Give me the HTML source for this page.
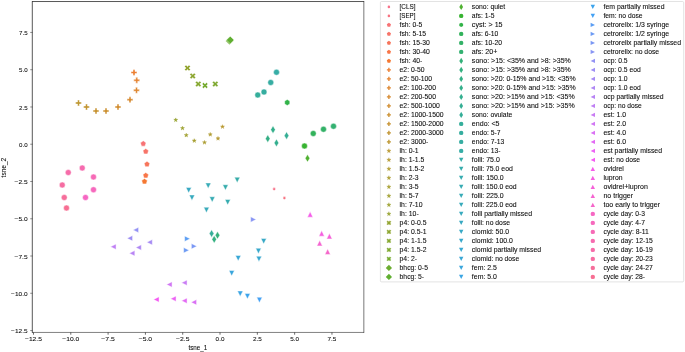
<!DOCTYPE html>
<html><head><meta charset="utf-8"><title>tsne</title>
<style>html,body{margin:0;padding:0;background:#fff;width:685px;height:352px;overflow:hidden}svg text{font-family:"Liberation Sans",sans-serif;stroke:#0a0a0a;stroke-width:0.07px;fill:#0a0a0a}</style></head>
<body>
<svg width="685" height="352" viewBox="0 0 685 352" style="display:block;position:absolute;left:0;top:0;will-change:transform" font-family="Liberation Sans, sans-serif" font-size="6.35px" fill="#000">
<rect x="0" y="0" width="685" height="352" fill="#fff"/>
<g>
<circle cx="274.15" cy="189.10" r="1.49" fill="#f77189" stroke="#fff" stroke-width="0.48" stroke-linejoin="miter"/>
<circle cx="284.40" cy="198.10" r="1.49" fill="#f77280" stroke="#fff" stroke-width="0.48" stroke-linejoin="miter"/>
<path d="M143.25 140.78L140.43 142.83L141.50 146.15L145.00 146.15L146.07 142.83Z" fill="#f77375" stroke="#fff" stroke-width="0.48" stroke-linejoin="miter"/>
<path d="M145.75 148.53L142.93 150.58L144.00 153.90L147.50 153.90L148.57 150.58Z" fill="#f77469" stroke="#fff" stroke-width="0.48" stroke-linejoin="miter"/>
<path d="M147.00 161.28L144.18 163.33L145.25 166.65L148.75 166.65L149.82 163.33Z" fill="#f7755b" stroke="#fff" stroke-width="0.48" stroke-linejoin="miter"/>
<path d="M145.75 172.53L142.93 174.58L144.00 177.90L147.50 177.90L148.57 174.58Z" fill="#f87648" stroke="#fff" stroke-width="0.48" stroke-linejoin="miter"/>
<path d="M144.50 178.53L141.68 180.58L142.75 183.90L146.25 183.90L147.32 180.58Z" fill="#f57832" stroke="#fff" stroke-width="0.48" stroke-linejoin="miter"/>
<path d="M133.01 75.47L134.99 75.47L134.99 73.49L136.97 73.49L136.97 71.51L134.99 71.51L134.99 69.53L133.01 69.53L133.01 71.51L131.03 71.51L131.03 73.49L133.01 73.49Z" fill="#ec7f32" stroke="#fff" stroke-width="0.48" stroke-linejoin="miter"/>
<path d="M135.76 83.22L137.74 83.22L137.74 81.24L139.72 81.24L139.72 79.26L137.74 79.26L137.74 77.28L135.76 77.28L135.76 79.26L133.78 79.26L133.78 81.24L135.76 81.24Z" fill="#e58432" stroke="#fff" stroke-width="0.48" stroke-linejoin="miter"/>
<path d="M135.51 93.22L137.49 93.22L137.49 91.24L139.47 91.24L139.47 89.26L137.49 89.26L137.49 87.28L135.51 87.28L135.51 89.26L133.53 89.26L133.53 91.24L135.51 91.24Z" fill="#de8832" stroke="#fff" stroke-width="0.48" stroke-linejoin="miter"/>
<path d="M129.01 102.72L130.99 102.72L130.99 100.74L132.97 100.74L132.97 98.76L130.99 98.76L130.99 96.78L129.01 96.78L129.01 98.76L127.03 98.76L127.03 100.74L129.01 100.74Z" fill="#d78b32" stroke="#fff" stroke-width="0.48" stroke-linejoin="miter"/>
<path d="M117.01 109.97L118.99 109.97L118.99 107.99L120.97 107.99L120.97 106.01L118.99 106.01L118.99 104.03L117.01 104.03L117.01 106.01L115.03 106.01L115.03 107.99L117.01 107.99Z" fill="#d28e32" stroke="#fff" stroke-width="0.48" stroke-linejoin="miter"/>
<path d="M105.01 113.97L106.99 113.97L106.99 111.99L108.97 111.99L108.97 110.01L106.99 110.01L106.99 108.03L105.01 108.03L105.01 110.01L103.03 110.01L103.03 111.99L105.01 111.99Z" fill="#cc9132" stroke="#fff" stroke-width="0.48" stroke-linejoin="miter"/>
<path d="M95.01 113.97L96.99 113.97L96.99 111.99L98.97 111.99L98.97 110.01L96.99 110.01L96.99 108.03L95.01 108.03L95.01 110.01L93.03 110.01L93.03 111.99L95.01 111.99Z" fill="#c79332" stroke="#fff" stroke-width="0.48" stroke-linejoin="miter"/>
<path d="M85.51 109.97L87.49 109.97L87.49 107.99L89.47 107.99L89.47 106.01L87.49 106.01L87.49 104.03L85.51 104.03L85.51 106.01L83.53 106.01L83.53 107.99L85.51 107.99Z" fill="#c29532" stroke="#fff" stroke-width="0.48" stroke-linejoin="miter"/>
<path d="M77.51 105.97L79.49 105.97L79.49 103.99L81.47 103.99L81.47 102.01L79.49 102.01L79.49 100.03L77.51 100.03L77.51 102.01L75.53 102.01L75.53 103.99L77.51 103.99Z" fill="#be9732" stroke="#fff" stroke-width="0.48" stroke-linejoin="miter"/>
<path d="M222.50 124.67L222.03 126.11L220.52 126.11L221.74 127.00L221.28 128.43L222.50 127.54L223.72 128.43L223.26 127.00L224.48 126.11L222.97 126.11Z" fill="#b99932" stroke="#b99932" stroke-width="0.42" stroke-linejoin="round"/>
<path d="M218.00 136.42L217.53 137.86L216.02 137.86L217.24 138.75L216.78 140.18L218.00 139.29L219.22 140.18L218.76 138.75L219.98 137.86L218.47 137.86Z" fill="#b59a32" stroke="#b59a32" stroke-width="0.42" stroke-linejoin="round"/>
<path d="M210.25 132.42L209.78 133.86L208.27 133.86L209.49 134.75L209.03 136.18L210.25 135.29L211.47 136.18L211.01 134.75L212.23 133.86L210.72 133.86Z" fill="#b09c32" stroke="#b09c32" stroke-width="0.42" stroke-linejoin="round"/>
<path d="M204.50 140.42L204.03 141.86L202.52 141.86L203.74 142.75L203.28 144.18L204.50 143.29L205.72 144.18L205.26 142.75L206.48 141.86L204.97 141.86Z" fill="#ac9d31" stroke="#ac9d31" stroke-width="0.42" stroke-linejoin="round"/>
<path d="M194.25 138.67L193.78 140.11L192.27 140.11L193.49 141.00L193.03 142.43L194.25 141.54L195.47 142.43L195.01 141.00L196.23 140.11L194.72 140.11Z" fill="#a79f31" stroke="#a79f31" stroke-width="0.42" stroke-linejoin="round"/>
<path d="M186.25 133.17L185.78 134.61L184.27 134.61L185.49 135.50L185.03 136.93L186.25 136.04L187.47 136.93L187.01 135.50L188.23 134.61L186.72 134.61Z" fill="#a2a031" stroke="#a2a031" stroke-width="0.42" stroke-linejoin="round"/>
<path d="M182.50 126.17L182.03 127.61L180.52 127.61L181.74 128.50L181.28 129.93L182.50 129.04L183.72 129.93L183.26 128.50L184.48 127.61L182.97 127.61Z" fill="#9da231" stroke="#9da231" stroke-width="0.42" stroke-linejoin="round"/>
<path d="M175.75 117.92L175.28 119.36L173.77 119.36L174.99 120.25L174.53 121.68L175.75 120.79L176.97 121.68L176.51 120.25L177.73 119.36L176.22 119.36Z" fill="#98a331" stroke="#98a331" stroke-width="0.42" stroke-linejoin="round"/>
<path d="M186.01 70.97L187.50 69.48L188.99 70.97L190.47 69.48L188.99 68.00L190.47 66.52L188.99 65.03L187.50 66.52L186.01 65.03L184.53 66.52L186.01 68.00L184.53 69.48Z" fill="#93a531" stroke="#fff" stroke-width="0.48" stroke-linejoin="miter"/>
<path d="M191.26 78.97L192.75 77.48L194.24 78.97L195.72 77.48L194.24 76.00L195.72 74.52L194.24 73.03L192.75 74.52L191.26 73.03L189.78 74.52L191.26 76.00L189.78 77.48Z" fill="#8da631" stroke="#fff" stroke-width="0.48" stroke-linejoin="miter"/>
<path d="M196.76 86.97L198.25 85.48L199.74 86.97L201.22 85.48L199.74 84.00L201.22 82.52L199.74 81.03L198.25 82.52L196.76 81.03L195.28 82.52L196.76 84.00L195.28 85.48Z" fill="#86a831" stroke="#fff" stroke-width="0.48" stroke-linejoin="miter"/>
<path d="M213.76 86.97L215.25 85.48L216.74 86.97L218.22 85.48L216.74 84.00L218.22 82.52L216.74 81.03L215.25 82.52L213.76 81.03L212.28 82.52L213.76 84.00L212.28 85.48Z" fill="#7fa931" stroke="#fff" stroke-width="0.48" stroke-linejoin="miter"/>
<path d="M203.51 88.47L205.00 86.98L206.49 88.47L207.97 86.98L206.49 85.50L207.97 84.02L206.49 82.53L205.00 84.02L203.51 82.53L202.03 84.02L203.51 85.50L202.03 86.98Z" fill="#76ab31" stroke="#fff" stroke-width="0.48" stroke-linejoin="miter"/>
<path d="M229.50 44.86L233.36 41.00L229.50 37.14L225.64 41.00Z" fill="#6cad31" stroke="#fff" stroke-width="0.48" stroke-linejoin="miter"/>
<path d="M230.25 43.86L234.11 40.00L230.25 36.14L226.39 40.00Z" fill="#60af31" stroke="#fff" stroke-width="0.48" stroke-linejoin="miter"/>
<path d="M307.50 162.11L309.82 158.25L307.50 154.39L305.18 158.25Z" fill="#50b131" stroke="#fff" stroke-width="0.48" stroke-linejoin="miter"/>
<circle cx="304.50" cy="146.00" r="2.97" fill="#37b331" stroke="#fff" stroke-width="0.48" stroke-linejoin="miter"/>
<path d="M287.25 99.53L284.68 101.02L284.68 103.98L287.25 105.47L289.82 103.98L289.82 101.02Z" fill="#32b349" stroke="#fff" stroke-width="0.48" stroke-linejoin="miter"/>
<circle cx="313.25" cy="133.50" r="2.97" fill="#32b25b" stroke="#fff" stroke-width="0.48" stroke-linejoin="miter"/>
<circle cx="323.50" cy="129.25" r="2.97" fill="#33b167" stroke="#fff" stroke-width="0.48" stroke-linejoin="miter"/>
<circle cx="333.50" cy="126.25" r="2.97" fill="#33b171" stroke="#fff" stroke-width="0.48" stroke-linejoin="miter"/>
<path d="M211.60 237.41L213.92 233.55L211.60 229.69L209.28 233.55Z" fill="#35ae98" stroke="#fff" stroke-width="0.48" stroke-linejoin="miter"/>
<path d="M217.50 239.11L219.82 235.25L217.50 231.39L215.18 235.25Z" fill="#33b079" stroke="#fff" stroke-width="0.48" stroke-linejoin="miter"/>
<path d="M214.20 243.21L216.52 239.35L214.20 235.49L211.88 239.35Z" fill="#34b080" stroke="#fff" stroke-width="0.48" stroke-linejoin="miter"/>
<path d="M267.76 142.51L270.08 138.65L267.76 134.79L265.44 138.65Z" fill="#34af85" stroke="#fff" stroke-width="0.48" stroke-linejoin="miter"/>
<path d="M273.00 133.56L275.32 129.70L273.00 125.84L270.68 129.70Z" fill="#34af8b" stroke="#fff" stroke-width="0.48" stroke-linejoin="miter"/>
<path d="M276.45 146.76L278.77 142.90L276.45 139.04L274.13 142.90Z" fill="#34af8f" stroke="#fff" stroke-width="0.48" stroke-linejoin="miter"/>
<path d="M286.55 139.51L288.87 135.65L286.55 131.79L284.23 135.65Z" fill="#35ae94" stroke="#fff" stroke-width="0.48" stroke-linejoin="miter"/>
<circle cx="257.75" cy="95.00" r="2.97" fill="#35ae9b" stroke="#fff" stroke-width="0.48" stroke-linejoin="miter"/>
<circle cx="264.00" cy="92.00" r="2.97" fill="#35ad9f" stroke="#fff" stroke-width="0.48" stroke-linejoin="miter"/>
<circle cx="270.75" cy="82.50" r="2.97" fill="#36ada2" stroke="#fff" stroke-width="0.48" stroke-linejoin="miter"/>
<circle cx="276.50" cy="72.25" r="2.97" fill="#36ada6" stroke="#fff" stroke-width="0.48" stroke-linejoin="miter"/>
<path d="M237.20 182.79L239.99 177.21L234.41 177.21Z" fill="#36aca9" stroke="#fff" stroke-width="0.48" stroke-linejoin="miter"/>
<path d="M225.45 190.29L228.24 184.71L222.66 184.71Z" fill="#36acac" stroke="#fff" stroke-width="0.48" stroke-linejoin="miter"/>
<path d="M227.70 205.04L230.49 199.46L224.91 199.46Z" fill="#36acb0" stroke="#fff" stroke-width="0.48" stroke-linejoin="miter"/>
<path d="M212.20 202.29L214.99 196.71L209.41 196.71Z" fill="#37abb3" stroke="#fff" stroke-width="0.48" stroke-linejoin="miter"/>
<path d="M208.20 188.54L210.99 182.96L205.41 182.96Z" fill="#37abb7" stroke="#fff" stroke-width="0.48" stroke-linejoin="miter"/>
<path d="M206.45 212.79L209.24 207.21L203.66 207.21Z" fill="#37aaba" stroke="#fff" stroke-width="0.48" stroke-linejoin="miter"/>
<path d="M191.95 200.54L194.74 194.96L189.16 194.96Z" fill="#37aabe" stroke="#fff" stroke-width="0.48" stroke-linejoin="miter"/>
<path d="M188.70 193.04L191.49 187.46L185.91 187.46Z" fill="#38a9c2" stroke="#fff" stroke-width="0.48" stroke-linejoin="miter"/>
<path d="M263.70 244.04L266.49 238.46L260.91 238.46Z" fill="#38a9c6" stroke="#fff" stroke-width="0.48" stroke-linejoin="miter"/>
<path d="M258.45 253.79L261.24 248.21L255.66 248.21Z" fill="#38a8cb" stroke="#fff" stroke-width="0.48" stroke-linejoin="miter"/>
<path d="M258.95 261.79L261.74 256.21L256.16 256.21Z" fill="#39a8d0" stroke="#fff" stroke-width="0.48" stroke-linejoin="miter"/>
<path d="M238.20 261.04L240.99 255.46L235.41 255.46Z" fill="#39a7d5" stroke="#fff" stroke-width="0.48" stroke-linejoin="miter"/>
<path d="M231.70 276.04L234.49 270.46L228.91 270.46Z" fill="#3aa6dc" stroke="#fff" stroke-width="0.48" stroke-linejoin="miter"/>
<path d="M240.20 296.54L242.99 290.96L237.41 290.96Z" fill="#3ba5e3" stroke="#fff" stroke-width="0.48" stroke-linejoin="miter"/>
<path d="M247.45 299.04L250.24 293.46L244.66 293.46Z" fill="#3ba3ec" stroke="#fff" stroke-width="0.48" stroke-linejoin="miter"/>
<path d="M259.45 302.79L262.24 297.21L256.66 297.21Z" fill="#43a1f4" stroke="#fff" stroke-width="0.48" stroke-linejoin="miter"/>
<path d="M190.19 238.75L184.61 235.96L184.61 241.54Z" fill="#5b9ef4" stroke="#fff" stroke-width="0.48" stroke-linejoin="miter"/>
<path d="M189.19 250.25L183.61 247.46L183.61 253.04Z" fill="#6d9bf4" stroke="#fff" stroke-width="0.48" stroke-linejoin="miter"/>
<path d="M196.94 246.25L191.36 243.46L191.36 249.04Z" fill="#7b98f4" stroke="#fff" stroke-width="0.48" stroke-linejoin="miter"/>
<path d="M256.19 219.50L250.61 216.71L250.61 222.29Z" fill="#8895f4" stroke="#fff" stroke-width="0.48" stroke-linejoin="miter"/>
<path d="M133.01 230.00L138.59 232.79L138.59 227.21Z" fill="#9392f4" stroke="#fff" stroke-width="0.48" stroke-linejoin="miter"/>
<path d="M127.01 238.25L132.59 241.04L132.59 235.46Z" fill="#9d8ff4" stroke="#fff" stroke-width="0.48" stroke-linejoin="miter"/>
<path d="M146.76 242.25L152.34 245.04L152.34 239.46Z" fill="#a68bf4" stroke="#fff" stroke-width="0.48" stroke-linejoin="miter"/>
<path d="M135.76 247.50L141.34 250.29L141.34 244.71Z" fill="#af88f4" stroke="#fff" stroke-width="0.48" stroke-linejoin="miter"/>
<path d="M129.26 253.25L134.84 256.04L134.84 250.46Z" fill="#b884f4" stroke="#fff" stroke-width="0.48" stroke-linejoin="miter"/>
<path d="M110.51 246.75L116.09 249.54L116.09 243.96Z" fill="#c080f4" stroke="#fff" stroke-width="0.48" stroke-linejoin="miter"/>
<path d="M181.51 282.75L187.09 285.54L187.09 279.96Z" fill="#c97cf4" stroke="#fff" stroke-width="0.48" stroke-linejoin="miter"/>
<path d="M166.51 284.50L172.09 287.29L172.09 281.71Z" fill="#d177f4" stroke="#fff" stroke-width="0.48" stroke-linejoin="miter"/>
<path d="M191.01 302.25L196.59 305.04L196.59 299.46Z" fill="#da71f4" stroke="#fff" stroke-width="0.48" stroke-linejoin="miter"/>
<path d="M181.51 300.75L187.09 303.54L187.09 297.96Z" fill="#e36af4" stroke="#fff" stroke-width="0.48" stroke-linejoin="miter"/>
<path d="M170.51 298.75L176.09 301.54L176.09 295.96Z" fill="#ec62f4" stroke="#fff" stroke-width="0.48" stroke-linejoin="miter"/>
<path d="M153.51 299.50L159.09 302.29L159.09 296.71Z" fill="#f45bf2" stroke="#fff" stroke-width="0.48" stroke-linejoin="miter"/>
<path d="M310.15 211.61L307.36 217.19L312.94 217.19Z" fill="#f55ee9" stroke="#fff" stroke-width="0.48" stroke-linejoin="miter"/>
<path d="M321.65 230.61L318.86 236.19L324.44 236.19Z" fill="#f560e0" stroke="#fff" stroke-width="0.48" stroke-linejoin="miter"/>
<path d="M329.40 233.36L326.61 238.94L332.19 238.94Z" fill="#f562d9" stroke="#fff" stroke-width="0.48" stroke-linejoin="miter"/>
<path d="M319.65 240.36L316.86 245.94L322.44 245.94Z" fill="#f564d1" stroke="#fff" stroke-width="0.48" stroke-linejoin="miter"/>
<path d="M327.65 248.86L324.86 254.44L330.44 254.44Z" fill="#f566ca" stroke="#fff" stroke-width="0.48" stroke-linejoin="miter"/>
<circle cx="85.50" cy="197.50" r="2.97" fill="#f667c3" stroke="#fff" stroke-width="0.48" stroke-linejoin="miter"/>
<circle cx="93.50" cy="189.75" r="2.97" fill="#f669bd" stroke="#fff" stroke-width="0.48" stroke-linejoin="miter"/>
<circle cx="93.50" cy="177.00" r="2.97" fill="#f66ab6" stroke="#fff" stroke-width="0.48" stroke-linejoin="miter"/>
<circle cx="82.25" cy="168.00" r="2.97" fill="#f66baf" stroke="#fff" stroke-width="0.48" stroke-linejoin="miter"/>
<circle cx="68.25" cy="172.50" r="2.97" fill="#f66ca9" stroke="#fff" stroke-width="0.48" stroke-linejoin="miter"/>
<circle cx="62.25" cy="185.00" r="2.97" fill="#f66da2" stroke="#fff" stroke-width="0.48" stroke-linejoin="miter"/>
<circle cx="64.25" cy="197.50" r="2.97" fill="#f66e9b" stroke="#fff" stroke-width="0.48" stroke-linejoin="miter"/>
<circle cx="66.50" cy="208.00" r="2.97" fill="#f76f93" stroke="#fff" stroke-width="0.48" stroke-linejoin="miter"/>
</g>
<g stroke="#262626" fill="none"><line x1="32.0" y1="1.52" x2="364.1" y2="1.52" stroke-width="0.78"/><line x1="32.3" y1="1.2" x2="32.3" y2="332.7" stroke-width="0.78"/><line x1="363.84" y1="1.2" x2="363.84" y2="332.7" stroke-width="0.62"/><line x1="32.0" y1="332.45" x2="364.1" y2="332.45" stroke-width="0.58"/></g>
<line x1="33.48" y1="332.4" x2="33.48" y2="334.7" stroke="#262626" stroke-width="0.7"/>
<text x="33.48" y="341.00" text-anchor="middle" textLength="17.03" lengthAdjust="spacingAndGlyphs" font-size="6.05px">−12.5</text>
<line x1="30.2" y1="32.45" x2="32.5" y2="32.45" stroke="#262626" stroke-width="0.5"/>
<text x="27.60" y="35.05" text-anchor="end" textLength="8.55" lengthAdjust="spacingAndGlyphs" font-size="6.05px">7.5</text>
<line x1="70.79" y1="332.4" x2="70.79" y2="334.7" stroke="#262626" stroke-width="0.7"/>
<text x="70.79" y="341.00" text-anchor="middle" textLength="17.03" lengthAdjust="spacingAndGlyphs" font-size="6.05px">−10.0</text>
<line x1="30.2" y1="69.71" x2="32.5" y2="69.71" stroke="#262626" stroke-width="0.5"/>
<text x="27.60" y="72.31" text-anchor="end" textLength="8.55" lengthAdjust="spacingAndGlyphs" font-size="6.05px">5.0</text>
<line x1="108.10" y1="332.4" x2="108.10" y2="334.7" stroke="#262626" stroke-width="0.7"/>
<text x="108.10" y="341.00" text-anchor="middle" textLength="13.49" lengthAdjust="spacingAndGlyphs" font-size="6.05px">−7.5</text>
<line x1="30.2" y1="106.97" x2="32.5" y2="106.97" stroke="#262626" stroke-width="0.5"/>
<text x="27.60" y="109.57" text-anchor="end" textLength="8.55" lengthAdjust="spacingAndGlyphs" font-size="6.05px">2.5</text>
<line x1="145.41" y1="332.4" x2="145.41" y2="334.7" stroke="#262626" stroke-width="0.7"/>
<text x="145.41" y="341.00" text-anchor="middle" textLength="13.49" lengthAdjust="spacingAndGlyphs" font-size="6.05px">−5.0</text>
<line x1="30.2" y1="144.23" x2="32.5" y2="144.23" stroke="#262626" stroke-width="0.5"/>
<text x="27.60" y="146.83" text-anchor="end" textLength="8.55" lengthAdjust="spacingAndGlyphs" font-size="6.05px">0.0</text>
<line x1="182.72" y1="332.4" x2="182.72" y2="334.7" stroke="#262626" stroke-width="0.7"/>
<text x="182.72" y="341.00" text-anchor="middle" textLength="13.49" lengthAdjust="spacingAndGlyphs" font-size="6.05px">−2.5</text>
<line x1="30.2" y1="181.49" x2="32.5" y2="181.49" stroke="#262626" stroke-width="0.5"/>
<text x="27.60" y="184.09" text-anchor="end" textLength="13.06" lengthAdjust="spacingAndGlyphs" font-size="6.05px">−2.5</text>
<line x1="220.03" y1="332.4" x2="220.03" y2="334.7" stroke="#262626" stroke-width="0.7"/>
<text x="220.03" y="341.00" text-anchor="middle" textLength="8.84" lengthAdjust="spacingAndGlyphs" font-size="6.05px">0.0</text>
<line x1="30.2" y1="218.75" x2="32.5" y2="218.75" stroke="#262626" stroke-width="0.5"/>
<text x="27.60" y="221.35" text-anchor="end" textLength="13.06" lengthAdjust="spacingAndGlyphs" font-size="6.05px">−5.0</text>
<line x1="257.34" y1="332.4" x2="257.34" y2="334.7" stroke="#262626" stroke-width="0.7"/>
<text x="257.34" y="341.00" text-anchor="middle" textLength="8.84" lengthAdjust="spacingAndGlyphs" font-size="6.05px">2.5</text>
<line x1="30.2" y1="256.01" x2="32.5" y2="256.01" stroke="#262626" stroke-width="0.5"/>
<text x="27.60" y="258.61" text-anchor="end" textLength="13.06" lengthAdjust="spacingAndGlyphs" font-size="6.05px">−7.5</text>
<line x1="294.65" y1="332.4" x2="294.65" y2="334.7" stroke="#262626" stroke-width="0.7"/>
<text x="294.65" y="341.00" text-anchor="middle" textLength="8.84" lengthAdjust="spacingAndGlyphs" font-size="6.05px">5.0</text>
<line x1="30.2" y1="293.27" x2="32.5" y2="293.27" stroke="#262626" stroke-width="0.5"/>
<text x="27.60" y="295.87" text-anchor="end" textLength="16.48" lengthAdjust="spacingAndGlyphs" font-size="6.05px">−10.0</text>
<line x1="331.96" y1="332.4" x2="331.96" y2="334.7" stroke="#262626" stroke-width="0.7"/>
<text x="331.96" y="341.00" text-anchor="middle" textLength="8.84" lengthAdjust="spacingAndGlyphs" font-size="6.05px">7.5</text>
<line x1="30.2" y1="330.53" x2="32.5" y2="330.53" stroke="#262626" stroke-width="0.5"/>
<text x="27.60" y="333.13" text-anchor="end" textLength="16.48" lengthAdjust="spacingAndGlyphs" font-size="6.05px">−12.5</text>
<text x="197.80" y="349.50" text-anchor="middle" textLength="18.72" lengthAdjust="spacingAndGlyphs">tsne_1</text>
<text x="0.00" y="0.00" text-anchor="middle" textLength="19.71" lengthAdjust="spacingAndGlyphs" transform="translate(5.6 167.6) rotate(-90)">tsne_2</text>
<rect x="380.4" y="1.5" width="303.30000000000007" height="280.4" rx="1.2" ry="1.2" fill="#fff" stroke="#d0d0d0" stroke-width="0.6"/>
<circle cx="388.90" cy="6.88" r="1.26" fill="#f77189"/>
<text x="399.59" y="8.50" text-anchor="start" textLength="15.96" lengthAdjust="spacingAndGlyphs">[CLS]</text>
<circle cx="388.90" cy="15.88" r="1.26" fill="#f77280"/>
<text x="399.59" y="17.50" text-anchor="start" textLength="15.83" lengthAdjust="spacingAndGlyphs">[SEP]</text>
<path d="M388.90 22.68L386.81 24.20L387.61 26.66L390.19 26.66L390.99 24.20Z" fill="#f77375"/>
<text x="399.59" y="26.50" text-anchor="start" textLength="22.68" lengthAdjust="spacingAndGlyphs">fsh: 0-5</text>
<path d="M388.90 31.68L386.81 33.20L387.61 35.66L390.19 35.66L390.99 33.20Z" fill="#f77469"/>
<text x="399.59" y="35.50" text-anchor="start" textLength="26.48" lengthAdjust="spacingAndGlyphs">fsh: 5-15</text>
<path d="M388.90 40.68L386.81 42.20L387.61 44.66L390.19 44.66L390.99 42.20Z" fill="#f7755b"/>
<text x="399.59" y="44.50" text-anchor="start" textLength="30.28" lengthAdjust="spacingAndGlyphs">fsh: 15-30</text>
<path d="M388.90 49.68L386.81 51.20L387.61 53.66L390.19 53.66L390.99 51.20Z" fill="#f87648"/>
<text x="399.59" y="53.50" text-anchor="start" textLength="30.28" lengthAdjust="spacingAndGlyphs">fsh: 30-40</text>
<path d="M388.90 58.68L386.81 60.20L387.61 62.66L390.19 62.66L390.99 60.20Z" fill="#f57832"/>
<text x="399.59" y="62.50" text-anchor="start" textLength="22.68" lengthAdjust="spacingAndGlyphs">fsh: 40-</text>
<path d="M388.23 71.90L389.57 71.90L389.57 70.55L390.92 70.55L390.92 69.21L389.57 69.21L389.57 67.86L388.23 67.86L388.23 69.21L386.88 69.21L386.88 70.55L388.23 70.55Z" fill="#ec7f32"/>
<text x="399.59" y="71.50" text-anchor="start" textLength="24.95" lengthAdjust="spacingAndGlyphs">e2: 0-50</text>
<path d="M388.23 80.90L389.57 80.90L389.57 79.55L390.92 79.55L390.92 78.21L389.57 78.21L389.57 76.86L388.23 76.86L388.23 78.21L386.88 78.21L386.88 79.55L388.23 79.55Z" fill="#e58432"/>
<text x="399.59" y="80.50" text-anchor="start" textLength="32.55" lengthAdjust="spacingAndGlyphs">e2: 50-100</text>
<path d="M388.23 89.90L389.57 89.90L389.57 88.55L390.92 88.55L390.92 87.21L389.57 87.21L389.57 85.86L388.23 85.86L388.23 87.21L386.88 87.21L386.88 88.55L388.23 88.55Z" fill="#de8832"/>
<text x="399.59" y="89.50" text-anchor="start" textLength="36.36" lengthAdjust="spacingAndGlyphs">e2: 100-200</text>
<path d="M388.23 98.90L389.57 98.90L389.57 97.55L390.92 97.55L390.92 96.21L389.57 96.21L389.57 94.86L388.23 94.86L388.23 96.21L386.88 96.21L386.88 97.55L388.23 97.55Z" fill="#d78b32"/>
<text x="399.59" y="98.50" text-anchor="start" textLength="36.36" lengthAdjust="spacingAndGlyphs">e2: 200-500</text>
<path d="M388.23 107.90L389.57 107.90L389.57 106.55L390.92 106.55L390.92 105.21L389.57 105.21L389.57 103.86L388.23 103.86L388.23 105.21L386.88 105.21L386.88 106.55L388.23 106.55Z" fill="#d28e32"/>
<text x="399.59" y="107.50" text-anchor="start" textLength="40.16" lengthAdjust="spacingAndGlyphs">e2: 500-1000</text>
<path d="M388.23 116.90L389.57 116.90L389.57 115.55L390.92 115.55L390.92 114.21L389.57 114.21L389.57 112.86L388.23 112.86L388.23 114.21L386.88 114.21L386.88 115.55L388.23 115.55Z" fill="#cc9132"/>
<text x="399.59" y="116.50" text-anchor="start" textLength="43.96" lengthAdjust="spacingAndGlyphs">e2: 1000-1500</text>
<path d="M388.23 125.90L389.57 125.90L389.57 124.55L390.92 124.55L390.92 123.21L389.57 123.21L389.57 121.86L388.23 121.86L388.23 123.21L386.88 123.21L386.88 124.55L388.23 124.55Z" fill="#c79332"/>
<text x="399.59" y="125.50" text-anchor="start" textLength="43.96" lengthAdjust="spacingAndGlyphs">e2: 1500-2000</text>
<path d="M388.23 134.90L389.57 134.90L389.57 133.55L390.92 133.55L390.92 132.21L389.57 132.21L389.57 130.86L388.23 130.86L388.23 132.21L386.88 132.21L386.88 133.55L388.23 133.55Z" fill="#c29532"/>
<text x="399.59" y="134.50" text-anchor="start" textLength="43.96" lengthAdjust="spacingAndGlyphs">e2: 2000-3000</text>
<path d="M388.23 143.90L389.57 143.90L389.57 142.55L390.92 142.55L390.92 141.21L389.57 141.21L389.57 139.86L388.23 139.86L388.23 141.21L386.88 141.21L386.88 142.55L388.23 142.55Z" fill="#be9732"/>
<text x="399.59" y="143.50" text-anchor="start" textLength="28.75" lengthAdjust="spacingAndGlyphs">e2: 3000-</text>
<path d="M388.90 148.68L388.41 150.20L386.81 150.20L388.10 151.14L387.61 152.66L388.90 151.72L390.19 152.66L389.70 151.14L390.99 150.20L389.39 150.20Z" fill="#b99932" stroke="#b99932" stroke-width="0.35" stroke-linejoin="round"/>
<text x="399.59" y="152.50" text-anchor="start" textLength="19.12" lengthAdjust="spacingAndGlyphs">lh: 0-1</text>
<path d="M388.90 157.68L388.41 159.20L386.81 159.20L388.10 160.14L387.61 161.66L388.90 160.72L390.19 161.66L389.70 160.14L390.99 159.20L389.39 159.20Z" fill="#b59a32" stroke="#b59a32" stroke-width="0.35" stroke-linejoin="round"/>
<text x="399.59" y="161.50" text-anchor="start" textLength="24.82" lengthAdjust="spacingAndGlyphs">lh: 1-1.5</text>
<path d="M388.90 166.68L388.41 168.20L386.81 168.20L388.10 169.14L387.61 170.66L388.90 169.72L390.19 170.66L389.70 169.14L390.99 168.20L389.39 168.20Z" fill="#b09c32" stroke="#b09c32" stroke-width="0.35" stroke-linejoin="round"/>
<text x="399.59" y="170.50" text-anchor="start" textLength="24.82" lengthAdjust="spacingAndGlyphs">lh: 1.5-2</text>
<path d="M388.90 175.68L388.41 177.20L386.81 177.20L388.10 178.14L387.61 179.66L388.90 178.72L390.19 179.66L389.70 178.14L390.99 177.20L389.39 177.20Z" fill="#ac9d31" stroke="#ac9d31" stroke-width="0.35" stroke-linejoin="round"/>
<text x="399.59" y="179.50" text-anchor="start" textLength="19.12" lengthAdjust="spacingAndGlyphs">lh: 2-3</text>
<path d="M388.90 184.68L388.41 186.20L386.81 186.20L388.10 187.14L387.61 188.66L388.90 187.72L390.19 188.66L389.70 187.14L390.99 186.20L389.39 186.20Z" fill="#a79f31" stroke="#a79f31" stroke-width="0.35" stroke-linejoin="round"/>
<text x="399.59" y="188.50" text-anchor="start" textLength="19.12" lengthAdjust="spacingAndGlyphs">lh: 3-5</text>
<path d="M388.90 193.68L388.41 195.20L386.81 195.20L388.10 196.14L387.61 197.66L388.90 196.72L390.19 197.66L389.70 196.14L390.99 195.20L389.39 195.20Z" fill="#a2a031" stroke="#a2a031" stroke-width="0.35" stroke-linejoin="round"/>
<text x="399.59" y="197.50" text-anchor="start" textLength="19.12" lengthAdjust="spacingAndGlyphs">lh: 5-7</text>
<path d="M388.90 202.68L388.41 204.20L386.81 204.20L388.10 205.14L387.61 206.66L388.90 205.72L390.19 206.66L389.70 205.14L390.99 204.20L389.39 204.20Z" fill="#9da231" stroke="#9da231" stroke-width="0.35" stroke-linejoin="round"/>
<text x="399.59" y="206.50" text-anchor="start" textLength="22.92" lengthAdjust="spacingAndGlyphs">lh: 7-10</text>
<path d="M388.90 211.68L388.41 213.20L386.81 213.20L388.10 214.14L387.61 215.66L388.90 214.72L390.19 215.66L389.70 214.14L390.99 213.20L389.39 213.20Z" fill="#98a331" stroke="#98a331" stroke-width="0.35" stroke-linejoin="round"/>
<text x="399.59" y="215.50" text-anchor="start" textLength="19.12" lengthAdjust="spacingAndGlyphs">lh: 10-</text>
<path d="M387.80 225.08L388.90 223.98L390.00 225.08L391.10 223.98L390.00 222.88L391.10 221.78L390.00 220.68L388.90 221.78L387.80 220.68L386.70 221.78L387.80 222.88L386.70 223.98Z" fill="#93a531" stroke="#93a531" stroke-width="0.2" stroke-linejoin="round"/>
<text x="399.59" y="224.50" text-anchor="start" textLength="26.97" lengthAdjust="spacingAndGlyphs">p4: 0-0.5</text>
<path d="M387.80 234.08L388.90 232.98L390.00 234.08L391.10 232.98L390.00 231.88L391.10 230.78L390.00 229.68L388.90 230.78L387.80 229.68L386.70 230.78L387.80 231.88L386.70 232.98Z" fill="#8da631" stroke="#8da631" stroke-width="0.2" stroke-linejoin="round"/>
<text x="399.59" y="233.50" text-anchor="start" textLength="26.97" lengthAdjust="spacingAndGlyphs">p4: 0.5-1</text>
<path d="M387.80 243.08L388.90 241.98L390.00 243.08L391.10 241.98L390.00 240.88L391.10 239.78L390.00 238.68L388.90 239.78L387.80 238.68L386.70 239.78L387.80 240.88L386.70 241.98Z" fill="#86a831" stroke="#86a831" stroke-width="0.2" stroke-linejoin="round"/>
<text x="399.59" y="242.50" text-anchor="start" textLength="26.97" lengthAdjust="spacingAndGlyphs">p4: 1-1.5</text>
<path d="M387.80 252.08L388.90 250.98L390.00 252.08L391.10 250.98L390.00 249.88L391.10 248.78L390.00 247.68L388.90 248.78L387.80 247.68L386.70 248.78L387.80 249.88L386.70 250.98Z" fill="#7fa931" stroke="#7fa931" stroke-width="0.2" stroke-linejoin="round"/>
<text x="399.59" y="251.50" text-anchor="start" textLength="26.97" lengthAdjust="spacingAndGlyphs">p4: 1.5-2</text>
<path d="M387.80 261.08L388.90 259.98L390.00 261.08L391.10 259.98L390.00 258.88L391.10 257.78L390.00 256.68L388.90 257.78L387.80 256.68L386.70 257.78L387.80 258.88L386.70 259.98Z" fill="#76ab31" stroke="#76ab31" stroke-width="0.2" stroke-linejoin="round"/>
<text x="399.59" y="260.50" text-anchor="start" textLength="17.46" lengthAdjust="spacingAndGlyphs">p4: 2-</text>
<path d="M388.90 270.99L392.01 267.88L388.90 264.77L385.79 267.88Z" fill="#6cad31"/>
<text x="399.59" y="269.50" text-anchor="start" textLength="28.33" lengthAdjust="spacingAndGlyphs">bhcg: 0-5</text>
<path d="M388.90 279.99L392.01 276.88L388.90 273.77L385.79 276.88Z" fill="#60af31"/>
<text x="399.59" y="278.50" text-anchor="start" textLength="24.53" lengthAdjust="spacingAndGlyphs">bhcg: 5-</text>
<path d="M461.20 9.99L463.07 6.88L461.20 3.77L459.33 6.88Z" fill="#50b131"/>
<text x="471.89" y="8.50" text-anchor="start" textLength="33.38" lengthAdjust="spacingAndGlyphs">sono: quiet</text>
<circle cx="461.20" cy="15.88" r="2.20" fill="#37b331"/>
<text x="471.89" y="17.50" text-anchor="start" textLength="22.55" lengthAdjust="spacingAndGlyphs">afs: 1-5</text>
<path d="M461.20 22.68L459.29 23.78L459.29 25.98L461.20 27.08L463.11 25.98L463.11 23.78Z" fill="#32b349"/>
<text x="471.89" y="26.50" text-anchor="start" textLength="30.70" lengthAdjust="spacingAndGlyphs">cyst: &gt; 15</text>
<circle cx="461.20" cy="33.88" r="2.20" fill="#32b25b"/>
<text x="471.89" y="35.50" text-anchor="start" textLength="26.35" lengthAdjust="spacingAndGlyphs">afs: 6-10</text>
<circle cx="461.20" cy="42.88" r="2.20" fill="#33b167"/>
<text x="471.89" y="44.50" text-anchor="start" textLength="30.15" lengthAdjust="spacingAndGlyphs">afs: 10-20</text>
<circle cx="461.20" cy="51.88" r="2.20" fill="#33b171"/>
<text x="471.89" y="53.50" text-anchor="start" textLength="25.40" lengthAdjust="spacingAndGlyphs">afs: 20+</text>
<path d="M461.20 63.99L463.07 60.88L461.20 57.77L459.33 60.88Z" fill="#33b079"/>
<text x="471.89" y="62.50" text-anchor="start" textLength="98.98" lengthAdjust="spacingAndGlyphs">sono: &gt;15: &lt;35% and &gt;8: &gt;35%</text>
<path d="M461.20 72.99L463.07 69.88L461.20 66.77L459.33 69.88Z" fill="#34b080"/>
<text x="471.89" y="71.50" text-anchor="start" textLength="98.98" lengthAdjust="spacingAndGlyphs">sono: &gt;15: &gt;35% and &gt;8: &gt;35%</text>
<path d="M461.20 81.99L463.07 78.88L461.20 75.77L459.33 78.88Z" fill="#34af85"/>
<text x="471.89" y="80.50" text-anchor="start" textLength="103.73" lengthAdjust="spacingAndGlyphs">sono: &gt;20: 0-15% and &gt;15: &lt;35%</text>
<path d="M461.20 90.99L463.07 87.88L461.20 84.77L459.33 87.88Z" fill="#34af8b"/>
<text x="471.89" y="89.50" text-anchor="start" textLength="103.73" lengthAdjust="spacingAndGlyphs">sono: &gt;20: 0-15% and &gt;15: &gt;35%</text>
<path d="M461.20 99.99L463.07 96.88L461.20 93.77L459.33 96.88Z" fill="#34af8f"/>
<text x="471.89" y="98.50" text-anchor="start" textLength="102.78" lengthAdjust="spacingAndGlyphs">sono: &gt;20: &gt;15% and &gt;15: &lt;35%</text>
<path d="M461.20 108.99L463.07 105.88L461.20 102.77L459.33 105.88Z" fill="#35ae94"/>
<text x="471.89" y="107.50" text-anchor="start" textLength="102.78" lengthAdjust="spacingAndGlyphs">sono: &gt;20: &gt;15% and &gt;15: &gt;35%</text>
<path d="M461.20 117.99L463.07 114.88L461.20 111.77L459.33 114.88Z" fill="#35ae98"/>
<text x="471.89" y="116.50" text-anchor="start" textLength="40.44" lengthAdjust="spacingAndGlyphs">sono: ovulate</text>
<circle cx="461.20" cy="123.88" r="2.20" fill="#35ae9b"/>
<text x="471.89" y="125.50" text-anchor="start" textLength="27.63" lengthAdjust="spacingAndGlyphs">endo: &lt;5</text>
<circle cx="461.20" cy="132.88" r="2.20" fill="#35ad9f"/>
<text x="471.89" y="134.50" text-anchor="start" textLength="28.58" lengthAdjust="spacingAndGlyphs">endo: 5-7</text>
<circle cx="461.20" cy="141.88" r="2.20" fill="#36ada2"/>
<text x="471.89" y="143.50" text-anchor="start" textLength="32.38" lengthAdjust="spacingAndGlyphs">endo: 7-13</text>
<circle cx="461.20" cy="150.88" r="2.20" fill="#36ada6"/>
<text x="471.89" y="152.50" text-anchor="start" textLength="28.58" lengthAdjust="spacingAndGlyphs">endo: 13-</text>
<path d="M461.20 162.08L463.40 157.68L459.00 157.68Z" fill="#36aca9"/>
<text x="471.89" y="161.50" text-anchor="start" textLength="27.96" lengthAdjust="spacingAndGlyphs">folli: 75.0</text>
<path d="M461.20 171.08L463.40 166.68L459.00 166.68Z" fill="#36acac"/>
<text x="471.89" y="170.50" text-anchor="start" textLength="40.98" lengthAdjust="spacingAndGlyphs">folli: 75.0 eod</text>
<path d="M461.20 180.08L463.40 175.68L459.00 175.68Z" fill="#36acb0"/>
<text x="471.89" y="179.50" text-anchor="start" textLength="31.76" lengthAdjust="spacingAndGlyphs">folli: 150.0</text>
<path d="M461.20 189.08L463.40 184.68L459.00 184.68Z" fill="#37abb3"/>
<text x="471.89" y="188.50" text-anchor="start" textLength="44.78" lengthAdjust="spacingAndGlyphs">folli: 150.0 eod</text>
<path d="M461.20 198.08L463.40 193.68L459.00 193.68Z" fill="#37abb7"/>
<text x="471.89" y="197.50" text-anchor="start" textLength="31.76" lengthAdjust="spacingAndGlyphs">folli: 225.0</text>
<path d="M461.20 207.08L463.40 202.68L459.00 202.68Z" fill="#37aaba"/>
<text x="471.89" y="206.50" text-anchor="start" textLength="44.78" lengthAdjust="spacingAndGlyphs">folli: 225.0 eod</text>
<path d="M461.20 216.08L463.40 211.68L459.00 211.68Z" fill="#37aabe"/>
<text x="471.89" y="215.50" text-anchor="start" textLength="60.14" lengthAdjust="spacingAndGlyphs">folli partially missed</text>
<path d="M461.20 225.08L463.40 220.68L459.00 220.68Z" fill="#38a9c2"/>
<text x="471.89" y="224.50" text-anchor="start" textLength="38.23" lengthAdjust="spacingAndGlyphs">folli: no dose</text>
<path d="M461.20 234.08L463.40 229.68L459.00 229.68Z" fill="#38a9c6"/>
<text x="471.89" y="233.50" text-anchor="start" textLength="37.09" lengthAdjust="spacingAndGlyphs">clomid: 50.0</text>
<path d="M461.20 243.08L463.40 238.68L459.00 238.68Z" fill="#38a8cb"/>
<text x="471.89" y="242.50" text-anchor="start" textLength="40.89" lengthAdjust="spacingAndGlyphs">clomid: 100.0</text>
<path d="M461.20 252.08L463.40 247.68L459.00 247.68Z" fill="#39a8d0"/>
<text x="471.89" y="251.50" text-anchor="start" textLength="69.28" lengthAdjust="spacingAndGlyphs">clomid partially missed</text>
<path d="M461.20 261.08L463.40 256.68L459.00 256.68Z" fill="#39a7d5"/>
<text x="471.89" y="260.50" text-anchor="start" textLength="47.37" lengthAdjust="spacingAndGlyphs">clomid: no dose</text>
<path d="M461.20 270.08L463.40 265.68L459.00 265.68Z" fill="#3aa6dc"/>
<text x="471.89" y="269.50" text-anchor="start" textLength="25.02" lengthAdjust="spacingAndGlyphs">fem: 2.5</text>
<path d="M461.20 279.08L463.40 274.68L459.00 274.68Z" fill="#3ba5e3"/>
<text x="471.89" y="278.50" text-anchor="start" textLength="25.02" lengthAdjust="spacingAndGlyphs">fem: 5.0</text>
<path d="M592.80 9.08L595.00 4.68L590.60 4.68Z" fill="#3ba3ec"/>
<text x="603.49" y="8.50" text-anchor="start" textLength="61.01" lengthAdjust="spacingAndGlyphs">fem partially missed</text>
<path d="M592.80 18.08L595.00 13.68L590.60 13.68Z" fill="#43a1f4"/>
<text x="603.49" y="17.50" text-anchor="start" textLength="39.09" lengthAdjust="spacingAndGlyphs">fem: no dose</text>
<path d="M595.00 24.88L590.60 22.68L590.60 27.08Z" fill="#5b9ef4"/>
<text x="603.49" y="26.50" text-anchor="start" textLength="65.59" lengthAdjust="spacingAndGlyphs">cetrorelix: 1/3 syringe</text>
<path d="M595.00 33.88L590.60 31.68L590.60 36.08Z" fill="#6d9bf4"/>
<text x="603.49" y="35.50" text-anchor="start" textLength="65.59" lengthAdjust="spacingAndGlyphs">cetrorelix: 1/2 syringe</text>
<path d="M595.00 42.88L590.60 40.68L590.60 45.08Z" fill="#7b98f4"/>
<text x="603.49" y="44.50" text-anchor="start" textLength="77.55" lengthAdjust="spacingAndGlyphs">cetrorelix partially missed</text>
<path d="M595.00 51.88L590.60 49.68L590.60 54.08Z" fill="#8895f4"/>
<text x="603.49" y="53.50" text-anchor="start" textLength="55.63" lengthAdjust="spacingAndGlyphs">cetrorelix: no dose</text>
<path d="M590.60 60.88L595.00 63.08L595.00 58.68Z" fill="#9392f4"/>
<text x="603.49" y="62.50" text-anchor="start" textLength="24.15" lengthAdjust="spacingAndGlyphs">ocp: 0.5</text>
<path d="M590.60 69.88L595.00 72.08L595.00 67.68Z" fill="#9d8ff4"/>
<text x="603.49" y="71.50" text-anchor="start" textLength="37.17" lengthAdjust="spacingAndGlyphs">ocp: 0.5 eod</text>
<path d="M590.60 78.88L595.00 81.08L595.00 76.68Z" fill="#a68bf4"/>
<text x="603.49" y="80.50" text-anchor="start" textLength="24.15" lengthAdjust="spacingAndGlyphs">ocp: 1.0</text>
<path d="M590.60 87.88L595.00 90.08L595.00 85.68Z" fill="#af88f4"/>
<text x="603.49" y="89.50" text-anchor="start" textLength="37.17" lengthAdjust="spacingAndGlyphs">ocp: 1.0 eod</text>
<path d="M590.60 96.88L595.00 99.08L595.00 94.68Z" fill="#b884f4"/>
<text x="603.49" y="98.50" text-anchor="start" textLength="60.14" lengthAdjust="spacingAndGlyphs">ocp partially missed</text>
<path d="M590.60 105.88L595.00 108.08L595.00 103.68Z" fill="#c080f4"/>
<text x="603.49" y="107.50" text-anchor="start" textLength="38.23" lengthAdjust="spacingAndGlyphs">ocp: no dose</text>
<path d="M590.60 114.88L595.00 117.08L595.00 112.68Z" fill="#c97cf4"/>
<text x="603.49" y="116.50" text-anchor="start" textLength="22.55" lengthAdjust="spacingAndGlyphs">est: 1.0</text>
<path d="M590.60 123.88L595.00 126.08L595.00 121.68Z" fill="#d177f4"/>
<text x="603.49" y="125.50" text-anchor="start" textLength="22.55" lengthAdjust="spacingAndGlyphs">est: 2.0</text>
<path d="M590.60 132.88L595.00 135.08L595.00 130.68Z" fill="#da71f4"/>
<text x="603.49" y="134.50" text-anchor="start" textLength="22.55" lengthAdjust="spacingAndGlyphs">est: 4.0</text>
<path d="M590.60 141.88L595.00 144.08L595.00 139.68Z" fill="#e36af4"/>
<text x="603.49" y="143.50" text-anchor="start" textLength="22.55" lengthAdjust="spacingAndGlyphs">est: 6.0</text>
<path d="M590.60 150.88L595.00 153.08L595.00 148.68Z" fill="#ec62f4"/>
<text x="603.49" y="152.50" text-anchor="start" textLength="58.54" lengthAdjust="spacingAndGlyphs">est partially missed</text>
<path d="M590.60 159.88L595.00 162.08L595.00 157.68Z" fill="#f45bf2"/>
<text x="603.49" y="161.50" text-anchor="start" textLength="36.62" lengthAdjust="spacingAndGlyphs">est: no dose</text>
<path d="M592.80 166.68L590.60 171.08L595.00 171.08Z" fill="#f55ee9"/>
<text x="603.49" y="170.50" text-anchor="start" textLength="20.31" lengthAdjust="spacingAndGlyphs">ovidrel</text>
<path d="M592.80 175.68L590.60 180.08L595.00 180.08Z" fill="#f560e0"/>
<text x="603.49" y="179.50" text-anchor="start" textLength="19.01" lengthAdjust="spacingAndGlyphs">lupron</text>
<path d="M592.80 184.68L590.60 189.08L595.00 189.08Z" fill="#f562d9"/>
<text x="603.49" y="188.50" text-anchor="start" textLength="44.32" lengthAdjust="spacingAndGlyphs">ovidrel+lupron</text>
<path d="M592.80 193.68L590.60 198.08L595.00 198.08Z" fill="#f564d1"/>
<text x="603.49" y="197.50" text-anchor="start" textLength="29.52" lengthAdjust="spacingAndGlyphs">no trigger</text>
<path d="M592.80 202.68L590.60 207.08L595.00 207.08Z" fill="#f566ca"/>
<text x="603.49" y="206.50" text-anchor="start" textLength="56.52" lengthAdjust="spacingAndGlyphs">too early to trigger</text>
<circle cx="592.80" cy="213.88" r="2.20" fill="#f667c3"/>
<text x="603.49" y="215.50" text-anchor="start" textLength="41.57" lengthAdjust="spacingAndGlyphs">cycle day: 0-3</text>
<circle cx="592.80" cy="222.88" r="2.20" fill="#f669bd"/>
<text x="603.49" y="224.50" text-anchor="start" textLength="41.57" lengthAdjust="spacingAndGlyphs">cycle day: 4-7</text>
<circle cx="592.80" cy="231.88" r="2.20" fill="#f66ab6"/>
<text x="603.49" y="233.50" text-anchor="start" textLength="45.37" lengthAdjust="spacingAndGlyphs">cycle day: 8-11</text>
<circle cx="592.80" cy="240.88" r="2.20" fill="#f66baf"/>
<text x="603.49" y="242.50" text-anchor="start" textLength="49.17" lengthAdjust="spacingAndGlyphs">cycle day: 12-15</text>
<circle cx="592.80" cy="249.88" r="2.20" fill="#f66ca9"/>
<text x="603.49" y="251.50" text-anchor="start" textLength="49.17" lengthAdjust="spacingAndGlyphs">cycle day: 16-19</text>
<circle cx="592.80" cy="258.88" r="2.20" fill="#f66da2"/>
<text x="603.49" y="260.50" text-anchor="start" textLength="49.17" lengthAdjust="spacingAndGlyphs">cycle day: 20-23</text>
<circle cx="592.80" cy="267.88" r="2.20" fill="#f66e9b"/>
<text x="603.49" y="269.50" text-anchor="start" textLength="49.17" lengthAdjust="spacingAndGlyphs">cycle day: 24-27</text>
<circle cx="592.80" cy="276.88" r="2.20" fill="#f76f93"/>
<text x="603.49" y="278.50" text-anchor="start" textLength="41.57" lengthAdjust="spacingAndGlyphs">cycle day: 28-</text>
</svg>
</body></html>
